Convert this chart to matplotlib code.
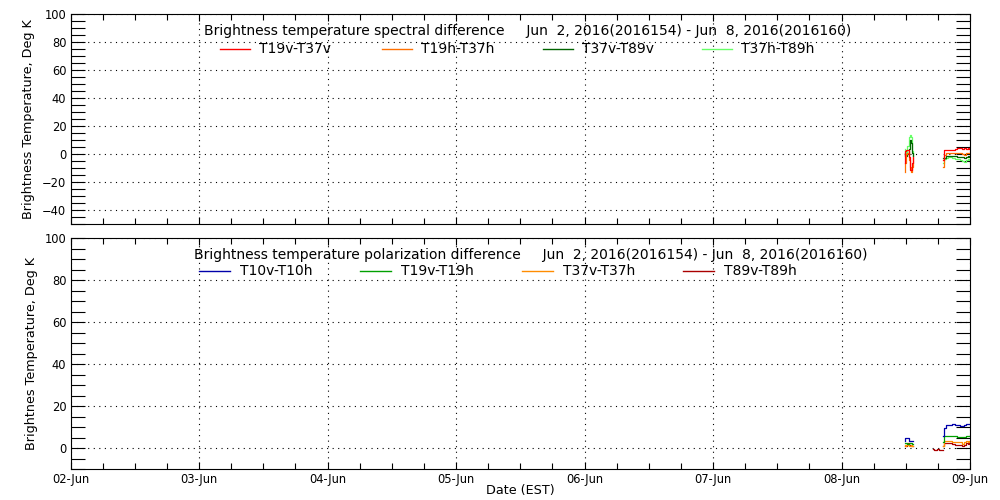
import matplotlib
matplotlib.use("Agg")
import matplotlib.pyplot as plt
import matplotlib.dates as mdates
import pandas as pd
import numpy as np

# ---- data (hours after 2016-06-08 00:00 EST) ----
base = "2016-06-08"
# top panel: spectral difference
t1_hours = [11.8, 12.0, 12.2, 12.45, 12.75, 12.9, 13.06, 13.2, 13.37]
t2_hours = [19.0, 19.3, 19.6, 20.25, 21.0, 21.5, 21.8, 22.4, 22.75, 23.06, 23.4, 23.7, 24.0]

spec_t19v_t37v_1 = [-6, 2, 3, 3, -2, -11, -11, -6, -2]
spec_t19v_t37v_2 = [-4, 3, 3, 3.3, 3.3, 3.5, 4.3, 4.3, 4, 4.3, 3.8, 4.3, 4]
spec_t19h_t37h_1 = [-13, -6, 0, 1, -4, -9, -13, -9, -3]
spec_t19h_t37h_2 = [-9, -0.7, 0.5, 0.5, 0.8, 0.8, 1.0, 0.5, 0.3, -0.7, 0.6, 1.0, 0.8]
spec_t37v_t89v_1 = [1, -1, -1, 0, 4, 10, 8, 1, -1]
spec_t37v_t89v_2 = [-3, -3, -1.4, -1.4, -1.4, -1.4, -1.8, -2.0, -2.3, -2.5, -2.0, -1.5, -2.0]
spec_t37h_t89h_1 = [4, 2, 1, 6, 12, 13.6, 12.5, 2, -1]
spec_t37h_t89h_2 = [-6, -3.8, -3, -1.9, -2.5, -3.3, -3.5, -4.3, -4.8, -5.5, -4.5, -3.8, -4.5]

# bottom panel: polarization difference
p1_hours = [11.8, 12.0, 12.2, 12.45, 12.75, 13.06, 13.37]
p_mid_hours = [17.1, 17.5, 18.0, 18.5, 19.0]
p2_hours = [19.0, 19.15, 19.3, 19.6, 20.25, 21.0, 21.5, 21.8, 22.4, 22.75, 23.06, 23.4, 23.7, 24.0]

pol_t10_1 = [3.5, 4.8, 4.8, 4.8, 3.2, 3.2, 3.2]
pol_t10_2 = [5.5, 8.0, 9.5, 11.1, 11.1, 11.3, 11.1, 10.8, 10.3, 10.5, 10.8, 11.6, 11.6, 11.6]
pol_t19_1 = [2.4, 2.4, 2.4, 2.0, 2.4, 2.4, 2.0]
pol_t19_2 = [3.0, 5.0, 5.9, 5.9, 5.9, 5.9, 5.9, 5.2, 5.2, 5.2, 5.2, 5.9, 5.9, 5.9]
pol_t37_1 = [1.6, 0.8, 1.6, 1.6, 0.8, 1.6, 0.8]
pol_t37_2 = [0.8, 2.5, 3.2, 3.2, 3.2, 2.8, 3.0, 2.8, 2.8, 2.0, 2.8, 3.2, 3.0, 3.2]
pol_t89_1 = [0.8, 0.8, 0.8, 2.4, 1.6, 0.8, 0.8]
pol_t89_mid = [-0.5, -0.8, -0.5, -0.8, -0.8]
pol_t89_2 = [0.8, 1.8, 2.4, 2.4, 2.4, 2.0, 1.6, 1.6, 1.4, 1.2, 1.6, 2.4, 2.0, 2.2]

spec_labels = ["T19v-T37v", "T19h-T37h", "T37v-T89v", "T37h-T89h"]
spec_colors = ["#ff0000", "#ff7000", "#006400", "#66ff66"]
pol_labels = ["T10v-T10h", "T19v-T19h", "T37v-T37h", "T89v-T89h"]
pol_colors = ["#0000aa", "#00a000", "#ff8c00", "#aa0000"]

title_top = "Brightness temperature spectral difference     Jun  2, 2016(2016154) - Jun  8, 2016(2016160)"
title_bot = "Brightness temperature polarization difference     Jun  2, 2016(2016154) - Jun  8, 2016(2016160)"


def tt(hours):
    return pd.Timestamp(base) + pd.to_timedelta(hours, unit="h")


plt.rcParams["font.family"] = ["DejaVu Sans"]
fig = plt.figure(figsize=(10, 5), dpi=100)
ax1 = fig.add_axes([0.0705, 0.552, 0.8995, 0.419])
ax2 = fig.add_axes([0.0705, 0.062, 0.8995, 0.4615])

xmin = pd.Timestamp("2016-06-02")
xmax = pd.Timestamp("2016-06-09")

for ax in (ax1, ax2):
    ax.set_xlim(xmin, xmax)
    ax.xaxis.set_major_locator(mdates.DayLocator())
    ax.xaxis.set_minor_locator(mdates.HourLocator(byhour=[6, 12, 18]))
    ax.xaxis.set_major_formatter(mdates.DateFormatter("%d-%b"))
    ax.tick_params(axis="x", which="major", direction="in", length=5, width=0.8,
                   top=True, bottom=True, labelsize=8.3, pad=3)
    ax.tick_params(axis="x", which="minor", direction="in", length=4, width=0.8,
                   top=True, bottom=True)
    ax.tick_params(axis="y", which="both", direction="in", length=10, width=0.8,
                   left=True, right=True, labelsize=8.3, pad=3)
    ax.grid(True, which="major", color="black", linestyle=(0, (1, 4)), linewidth=0.8)
    for s in ax.spines.values():
        s.set_linewidth(0.8)

ax1.set_ylim(-50, 100)
ax1.set_yticks(np.arange(-40, 101, 20))
ax1.yaxis.set_minor_locator(plt.MultipleLocator(5))
ax1.tick_params(axis="x", labelbottom=False)

ax2.set_ylim(-10, 100)
ax2.set_yticks(np.arange(0, 101, 20))
ax2.yaxis.set_minor_locator(plt.MultipleLocator(5))

lw = 0.9
# top data
spec1 = [spec_t19v_t37v_1, spec_t19h_t37h_1, spec_t37v_t89v_1, spec_t37h_t89h_1]
spec2 = [spec_t19v_t37v_2, spec_t19h_t37h_2, spec_t37v_t89v_2, spec_t37h_t89h_2]
for order in [3, 2, 1, 0]:
    ax1.plot(tt(t1_hours), spec1[order], color=spec_colors[order], lw=lw, drawstyle="steps-mid")
    ax1.plot(tt(t2_hours), spec2[order], color=spec_colors[order], lw=lw, drawstyle="steps-mid")

pol1 = [pol_t10_1, pol_t19_1, pol_t37_1, pol_t89_1]
pol2 = [pol_t10_2, pol_t19_2, pol_t37_2, pol_t89_2]
for order in [3, 2, 1, 0]:
    ax2.plot(tt(p1_hours), pol1[order], color=pol_colors[order], lw=lw, drawstyle="steps-mid")
    ax2.plot(tt(p2_hours), pol2[order], color=pol_colors[order], lw=lw, drawstyle="steps-mid")
ax2.plot(tt(p_mid_hours), pol_t89_mid, color=pol_colors[3], lw=lw, drawstyle="steps-mid")

# titles and legends (figure pixel coordinates -> fractions)
def fx(px):
    return px / 1000.0

def fy(py):
    return 1 - py / 500.0

fs = 10
fig.text(fx(204), fy(31), title_top, fontsize=fs, va="center", ha="left")
fig.text(fx(194), fy(255), title_bot, fontsize=fs, va="center", ha="left")

spec_line_x = [220, 382, 543, 702]
pol_line_x = [199, 360, 522, 683]
for i in range(4):
    x0 = spec_line_x[i]
    fig.add_artist(plt.Line2D([fx(x0), fx(x0 + 30)], [fy(49), fy(49)], color=spec_colors[i], lw=1.0))
    fig.text(fx(x0 + 39), fy(49), spec_labels[i], fontsize=fs, va="center", ha="left")
    x0 = pol_line_x[i]
    fig.add_artist(plt.Line2D([fx(x0), fx(x0 + 31)], [fy(271), fy(271)], color=pol_colors[i], lw=1.0))
    fig.text(fx(x0 + 41), fy(271), pol_labels[i], fontsize=fs, va="center", ha="left")

ax1.set_ylabel("Brightness Temperature, Deg K", fontsize=9.2, labelpad=5)
ax2.set_ylabel("Brightnes Temperature, Deg K", fontsize=9.2, labelpad=5)
ax2.set_xlabel("Date (EST)", fontsize=9.2, va="center")
ax2.xaxis.set_label_coords(0.5, -0.094)

fig.savefig("out.png", dpi=100)
